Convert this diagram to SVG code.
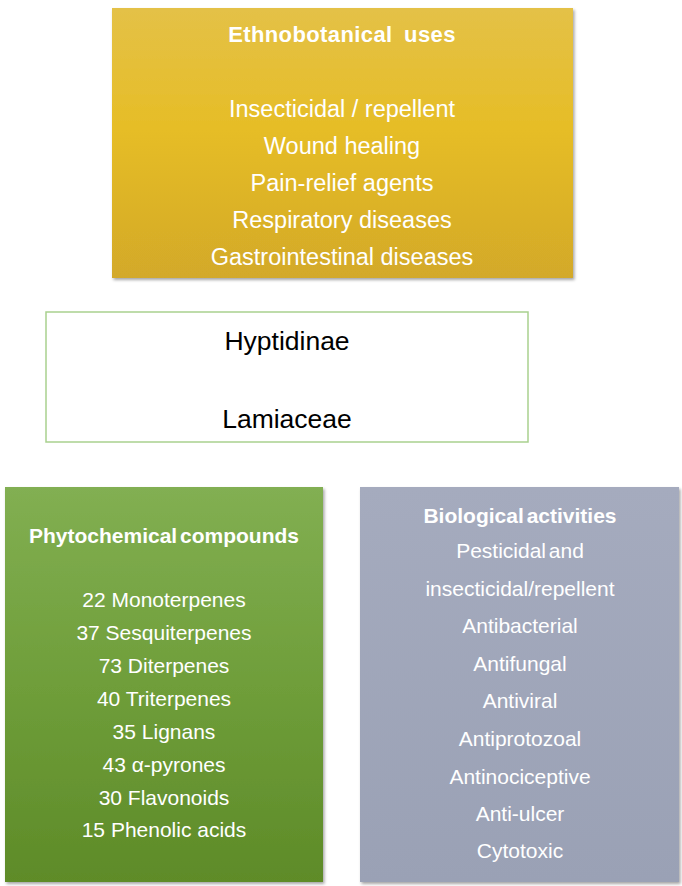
<svg xmlns="http://www.w3.org/2000/svg" width="682" height="886" viewBox="0 0 682 886">
<defs>
<linearGradient id="gY" x1="0" y1="0" x2="0" y2="1">
<stop offset="0" stop-color="#e4c147"/>
<stop offset="0.45" stop-color="#e6bd26"/>
<stop offset="1" stop-color="#d3a929"/>
</linearGradient>
<linearGradient id="gG" x1="0" y1="0" x2="0" y2="1">
<stop offset="0" stop-color="#82af52"/>
<stop offset="0.5" stop-color="#6f9e3a"/>
<stop offset="1" stop-color="#5e8b28"/>
</linearGradient>
<linearGradient id="gB" x1="0" y1="0" x2="0" y2="1">
<stop offset="0" stop-color="#a5abbe"/>
<stop offset="1" stop-color="#9aa1b5"/>
</linearGradient>
<filter id="sh" x="-5%" y="-5%" width="110%" height="110%">
<feDropShadow dx="1.5" dy="2" stdDeviation="1.5" flood-color="#000" flood-opacity="0.35"/>
</filter>
</defs>
<style>
text{font-family:"Liberation Sans",Arial,sans-serif;text-anchor:middle;fill:#fff}
.t{font-weight:bold;font-size:21px}
.i{font-size:21px}
.iy{font-size:23.5px}
.c{font-size:26.5px;fill:#000}
</style>
<rect width="682" height="886" fill="#fff"/>
<g id="ethnobotanical">
<rect x="112" y="8" width="461" height="270" fill="url(#gY)" filter="url(#sh)"/>
<text class="t" x="342" y="42" style="font-size:22px;letter-spacing:0.4px;word-spacing:5px">Ethnobotanical uses</text>
<text class="iy" x="342" y="117">Insecticidal / repellent</text>
<text class="iy" x="342" y="154">Wound healing</text>
<text class="iy" x="342" y="191">Pain-relief agents</text>
<text class="iy" x="342" y="228">Respiratory diseases</text>
<text class="iy" x="342" y="265">Gastrointestinal diseases</text>
</g>
<g id="taxon">
<rect x="46" y="312" width="482" height="130" fill="#fff" stroke="#a9d18e" stroke-width="1.5"/>
<text class="c" x="287" y="350">Hyptidinae</text>
<text class="c" x="287" y="428">Lamiaceae</text>
</g>
<g id="phytochemical">
<rect x="5" y="487" width="318" height="395" fill="url(#gG)" filter="url(#sh)"/>
<text class="t" x="164" y="543" style="word-spacing:-3px">Phytochemical compounds</text>
<text class="i" x="164" y="607">22 Monoterpenes</text>
<text class="i" x="164" y="640">37 Sesquiterpenes</text>
<text class="i" x="164" y="673">73 Diterpenes</text>
<text class="i" x="164" y="706">40 Triterpenes</text>
<text class="i" x="164" y="739">35 Lignans</text>
<text class="i" x="164" y="772">43 α-pyrones</text>
<text class="i" x="164" y="805">30 Flavonoids</text>
<text class="i" x="164" y="837">15 Phenolic acids</text>
</g>
<g id="biological">
<rect x="360" y="487" width="319" height="395" fill="url(#gB)" filter="url(#sh)"/>
<text class="t" x="520" y="523" style="word-spacing:-3px">Biological activities</text>
<text class="i" x="520" y="558" style="word-spacing:-3px">Pesticidal and</text>
<text class="i" x="520" y="596">insecticidal/repellent</text>
<text class="i" x="520" y="633">Antibacterial</text>
<text class="i" x="520" y="671">Antifungal</text>
<text class="i" x="520" y="708">Antiviral</text>
<text class="i" x="520" y="746">Antiprotozoal</text>
<text class="i" x="520" y="784">Antinociceptive</text>
<text class="i" x="520" y="821">Anti-ulcer</text>
<text class="i" x="520" y="858">Cytotoxic</text>
</g>
<g id="connectors"></g>
</svg>
